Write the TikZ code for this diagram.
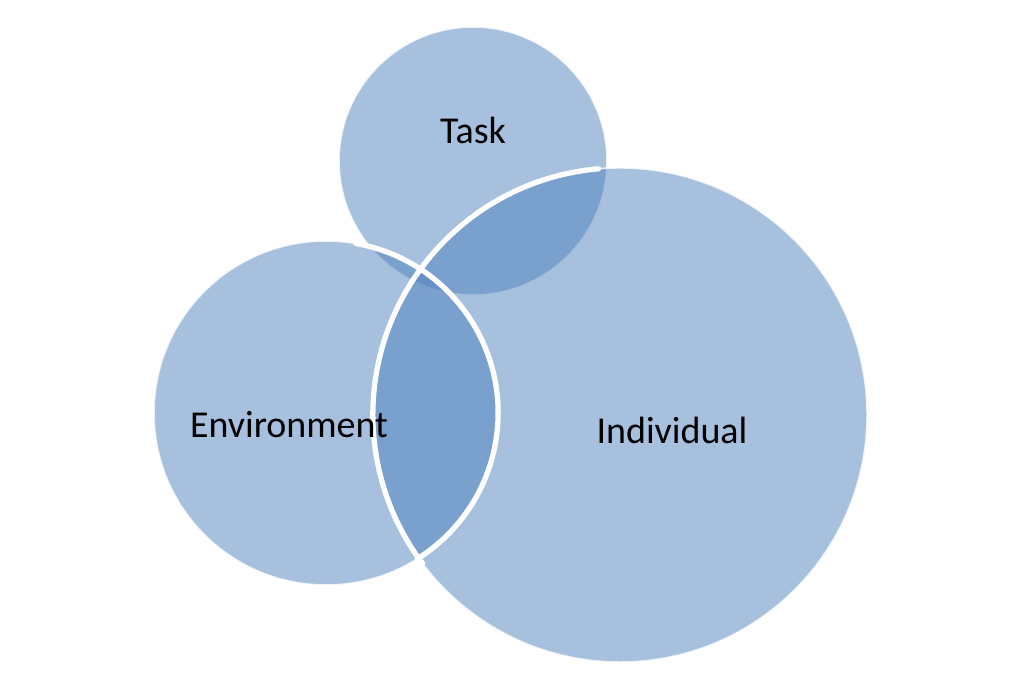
\documentclass[tikz,border=0pt]{standalone}
\usepackage{fontspec}
\setmainfont{Carlito}
\definecolor{vennblue}{RGB}{79,129,189}

\tikzset{
  venn/.style={circle, inner sep=0pt, outer sep=0pt, fill=vennblue, fill opacity=0.5, draw=white, draw opacity=0.8, line width=0.5pt},
  rim/.style={draw=white, line width=1.5pt, line cap=round},
  vtext/.style={font=\fontsize{10.8}{12}\selectfont, text=black}
}

\begin{document}
\begin{tikzpicture}[x=0.01cm,y=-0.01cm]
  \useasboundingbox (0,0) rectangle (1024,686);

  \node[venn, minimum size=2.68cm] (task) at (473,161) {};
  \node[venn, minimum size=3.44cm] (env) at (326,413) {};
  \node[venn, minimum size=4.94cm] (indiv) at (620,415) {};

  % white rims
  \draw[rim] (env.80) arc[start angle=80, end angle=-58, radius=1.72cm];
  \draw[rim] (indiv.95) arc[start angle=95, end angle=217, radius=2.47cm];

  \node[vtext] (tasklbl) at (473,130) {Task};
  \node[vtext] (envlbl) at (289,425) {Environment};
  \node[vtext] (indivlbl) at (672,430) {Individual};
\end{tikzpicture}
\end{document}
